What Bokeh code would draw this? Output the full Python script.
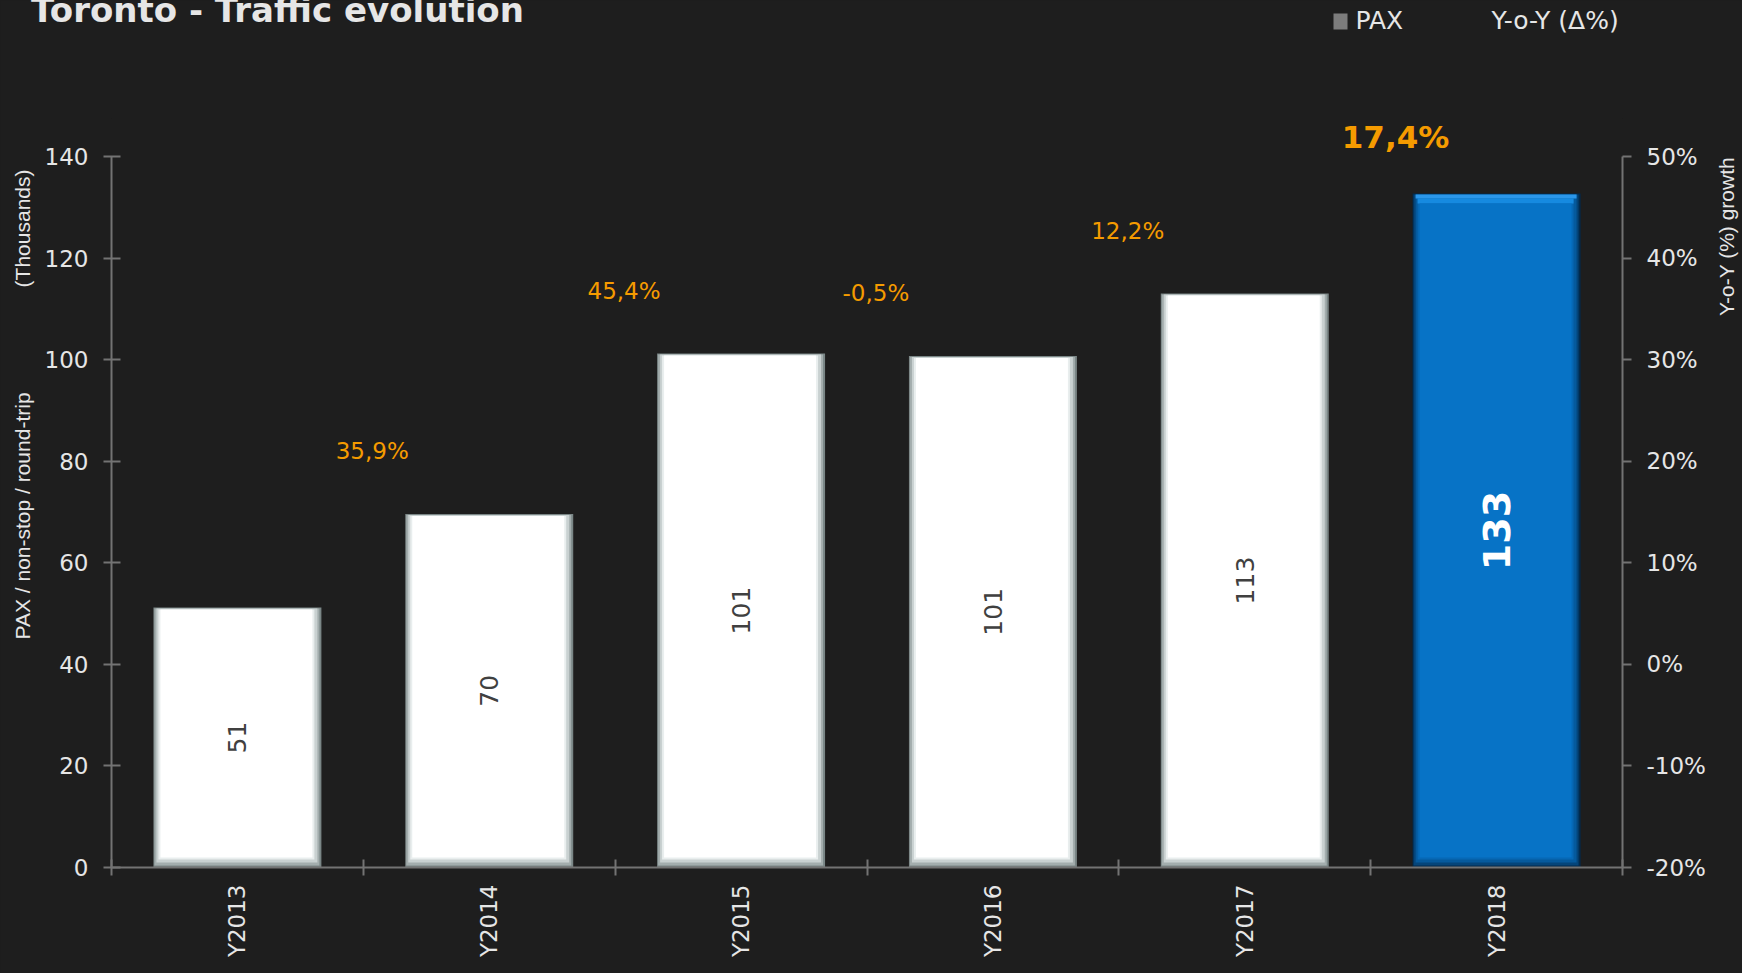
import math
from bokeh.plotting import figure
from bokeh.core.properties import value
from bokeh.models import (ColumnDataSource, Range1d, LinearAxis, FixedTicker,
                          LabelSet, Label, PrintfTickFormatter)
from bokeh.embed import file_html
from bokeh.resources import INLINE

# ---------------- data ----------------
title_text = "Toronto - Traffic evolution"
years = ["Y2013", "Y2014", "Y2015", "Y2016", "Y2017", "Y2018"]
pax = [51.2, 69.6, 101.2, 100.7, 113.0, 132.7]      # thousands
yoy = [-11.9, 35.9, 45.4, -0.5, 12.2, 17.4]          # Y-o-Y growth, %
left_ticks = [0, 20, 40, 60, 80, 100, 120, 140]
right_ticks = [-20, -10, 0, 10, 20, 30, 40, 50]
left_title = "PAX / non-stop / round-trip"
left_unit = "(Thousands)"
right_title = "Y-o-Y (%) growth"
legend_labels = ["PAX", "Y-o-Y (Δ%)"]
highlight = "Y2018"

# ---------------- layout ----------------
W, H = 1742, 973
BL, BR, BT, BB = 111, 120, 118, 106
Y140 = 156                      # canvas y of the top tick
FW = W - BL - BR
FB = H - BB                     # canvas y of frame bottom (value 0)
N = len(years)
YMAX = left_ticks[-1]
PX = N / FW
PY = YMAX / (FB - Y140)
Y_TOP = YMAX + (Y140 - BT) * PY
RSPAN = right_ticks[-1] - right_ticks[0]
R_TOP = right_ticks[-1] + (Y140 - BT) * PY * RSPAN / YMAX
BAR_W = 0.667

BG = "#1e1e1e"
AXIS = "#737373"
TXT = "#e6e6e6"
ORANGE = "#F59B00"
FONT = "DejaVu Sans"
NARROW = "Liberation Sans"

xpos = [i + 0.5 for i in range(N)]
hi = years.index(highlight)
white_idx = [i for i in range(N) if i != hi]
blue_idx = [hi]

p = figure(width=W, height=H, output_backend="svg", toolbar_location=None,
           x_range=Range1d(0, N), y_range=Range1d(0, Y_TOP),
           min_border_left=BL, min_border_right=BR, min_border_top=BT,
           min_border_bottom=BB, x_axis_type=None, y_axis_type=None)
p.extra_y_ranges = {"pct": Range1d(right_ticks[0], R_TOP)}
p.background_fill_color = BG
p.border_fill_color = BG
p.outline_line_color = None
p.xgrid.visible = False
p.ygrid.visible = False


def bar_layer(idx, il, ir, tpx, bpx, color, band=False):
    xs = [xpos[i] + (il - ir) / 2 * PX for i in idx]
    w = BAR_W - (il + ir) * PX
    if band:
        tops = [pax[i] - tpx * PY for i in idx]
        bots = [pax[i] - bpx * PY for i in idx]
    else:
        tops = [pax[i] - tpx * PY for i in idx]
        bots = [bpx * PY for _ in idx]
    src = ColumnDataSource(dict(x=xs, top=tops, bottom=bots))
    return p.vbar(x="x", width=w, top="top", bottom="bottom", source=src,
                  fill_color=color, line_color=None)


# bevelled bars: nested layers from the dark rim to the flat face
white_layers = [(0, 0, 0, 0, "#7a8686"), (1, 2, 1, 2, "#a3adad"),
                (3, 4, 1, 5, "#c9d1d1"), (5, 7, 2, 8, "#e9eeee"),
                (7, 9, 2, 10, "#ffffff")]
blue_layers = [(0, 0, 0, 0, "#022a4c"), (1, 2, 1, 2, "#04457a"),
               (3, 4, 1, 5, "#055a9d"), (5, 7, 2, 8, "#0668b5")]

for (il, ir, t, b, c) in white_layers:
    bar_layer(white_idx, il, ir, t, b, c)
for (il, ir, t, b, c) in blue_layers:
    bar_layer(blue_idx, il, ir, t, b, c)
bar_layer(blue_idx, 3, 4, 1, 5, "#2b97ea", band=True)
bar_layer(blue_idx, 5, 7, 5, 10, "#168ae0", band=True)
bar_layer(blue_idx, 7, 9, 10, 10, "#0773c6")

# ---------------- axes ----------------
yl = LinearAxis(ticker=FixedTicker(ticks=left_ticks),
                bounds=(left_ticks[0], left_ticks[-1]))
yr = LinearAxis(y_range_name="pct", ticker=FixedTicker(ticks=right_ticks),
                formatter=PrintfTickFormatter(format="%d%%"),
                bounds=(right_ticks[0], right_ticks[-1]))
xb = LinearAxis(ticker=FixedTicker(ticks=xpos, minor_ticks=list(range(N + 1))),
                major_label_overrides={x: y for x, y in zip(xpos, years)},
                major_label_orientation=math.pi / 2)
for ax in (yl, yr, xb):
    ax.axis_line_color = AXIS
    ax.axis_line_width = 2
    ax.major_tick_line_color = AXIS
    ax.major_tick_line_width = 2
    ax.minor_tick_line_color = None
    ax.major_label_text_color = TXT
    ax.major_label_text_font = FONT
    ax.major_label_text_font_size = "23px"
yl.major_tick_in, yl.major_tick_out = 9, 8
yl.major_label_standoff = 15
yr.major_tick_in, yr.major_tick_out = 0, 9
yr.major_label_standoff = 15
xb.major_tick_line_color = None
xb.major_tick_in, xb.major_tick_out = 0, 0
xb.minor_tick_line_color = AXIS
xb.minor_tick_line_width = 2
xb.minor_tick_in, xb.minor_tick_out = 8, 8
xb.major_label_standoff = 9
p.add_layout(yl, "left")
p.add_layout(yr, "right")
p.add_layout(xb, "below")

# ---------------- data labels ----------------
def pct(v):
    return f"{v:.1f}".replace(".", ",") + "%"

norm = [i for i in range(1, N) if i != hi]
src_g = ColumnDataSource(dict(x=[xpos[i] for i in norm], y=[pax[i] for i in norm],
                              t=[pct(yoy[i]) for i in norm]))
p.add_layout(LabelSet(x="x", y="y", text="t", source=src_g, x_offset=-117, y_offset=63,
                      text_align="center", text_baseline="middle", text_color=ORANGE,
                      text_font=value(FONT), text_font_size="23px"))
src_gh = ColumnDataSource(dict(x=[xpos[hi]], y=[pax[hi]], t=[pct(yoy[hi])]))
p.add_layout(LabelSet(x="x", y="y", text="t", source=src_gh, x_offset=-101, y_offset=57,
                      text_align="center", text_baseline="middle", text_color=ORANGE,
                      text_font=value(FONT), text_font_size="31px",
                      text_font_style="bold"))
# first year's growth label: below the axis, near-black (as in the original)
p.add_layout(Label(x=xpos[0], y=0, x_offset=-154, y_offset=-94, text=pct(yoy[0]),
                   text_align="center", text_baseline="middle", text_color="#050505",
                   text_font=FONT, text_font_size="22px"))

src_v = ColumnDataSource(dict(x=[xpos[i] for i in white_idx],
                              y=[pax[i] / 2 for i in white_idx],
                              t=[f"{pax[i]:.0f}" for i in white_idx]))
p.add_layout(LabelSet(x="x", y="y", text="t", source=src_v, angle=math.pi / 2,
                      text_align="center", text_baseline="middle", text_color="#404040",
                      text_font=value(FONT), text_font_size="25px"))
src_vh = ColumnDataSource(dict(x=[xpos[hi]], y=[pax[hi] / 2], t=[f"{pax[hi]:.0f}"]))
p.add_layout(LabelSet(x="x", y="y", text="t", source=src_vh, angle=math.pi / 2,
                      text_align="center", text_baseline="middle", text_color="#ffffff",
                      text_font=value(FONT), text_font_size="38px",
                      text_font_style="bold"))

# ---------------- texts outside the frame (side panels, canvas units) ----------------
def canvas_label(x, y, text, **kw):
    return Label(x=x, y=y, x_units="canvas", y_units="canvas", text=text, **kw)

p.add_layout(canvas_label(30.6, 9.2, title_text, text_align="left",
                          text_baseline="alphabetic", text_color=TXT, text_font=FONT,
                          text_font_size="34px", text_font_style="bold"), "above")
# legend: swatch + two entries
p.add_layout(canvas_label(1333, 13, "\u2003", text_align="left", text_baseline="top",
                          text_font_size="12px", text_color="#7a7a7a",
                          background_fill_color="#7c7c7c", padding=1), "above")
p.add_layout(canvas_label(1355, 19.5, legend_labels[0], text_align="left",
                          text_baseline="middle", text_color=TXT, text_font=FONT,
                          text_font_size="25px"), "above")
p.add_layout(canvas_label(1491, 19.5, legend_labels[1], text_align="left",
                          text_baseline="middle", text_color=TXT, text_font=FONT,
                          text_font_size="25px"), "above")

gap = "\u00a0" * 18
p.add_layout(canvas_label(22, 639, left_title + gap + left_unit, angle=math.pi / 2,
                          text_align="left", text_baseline="middle", text_color=TXT,
                          text_font=NARROW, text_font_size="21px"), "left")
p.add_layout(canvas_label(1725.6, 236, right_title, angle=math.pi / 2,
                          text_align="center", text_baseline="middle", text_color=TXT,
                          text_font=NARROW, text_font_size="21px"), "right")

html = file_html(p, INLINE)
html = html.replace("<head>", "<head><style>html,body{background:#1e1e1e;}</style>", 1)
open("out.html", "w").write(html)
